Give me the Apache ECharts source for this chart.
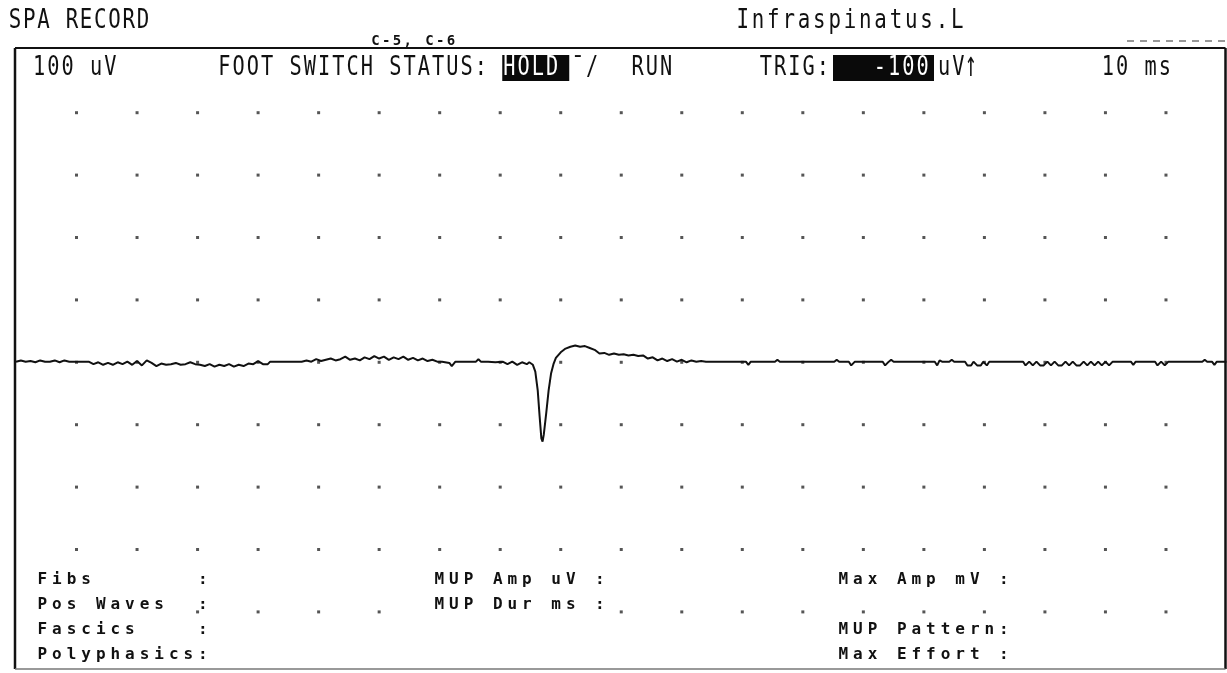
<!DOCTYPE html>
<html><head><meta charset="utf-8">
<script src="https://cdn.jsdelivr.net/npm/echarts@6/dist/echarts.min.js"></script>
<style>html,body{margin:0;padding:0;background:#fff}#c{width:1227px;height:673px}</style>
</head><body><div id="c"></div>
<script>
// ---------------- DATA ----------------
// EMG sweep: [time ms, amplitude uV]
const tracePoints = [
 [0,1],[0.4,3],[0.8,1],[1.2,2],[1.6,0],[2.0,3],[2.4,1],[2.8,1],[3.2,3],[3.6,0],[4.0,3],[4.4,1],[5.0,1],[6.0,1],
 [6.4,-3],[6.8,0],[7.2,-4],[7.6,-1],[8.0,-4],[8.4,0],[8.8,-3],[9.2,1],
 [9.6,-4],[10.0,2],[10.4,-5],[10.8,3],[11.2,-1],[11.6,-6],
 [12.0,-2],[12.4,-4],[12.8,-3],[13.2,-1],[13.6,-4],[14.0,-3],[14.4,0],[14.8,-3],[15.2,-4],
 [15.6,-6],[16.0,-3],[16.4,-7],[16.8,-4],[17.2,-6],[17.6,-3],[18.0,-7],[18.4,-4],[18.8,-6],[19.2,-2],
 [19.6,-3],[20.0,2],[20.4,-3],[20.8,-3],[21.0,1],[22.0,1],[23.0,1],[23.6,1],
 [24.0,3],[24.4,1],[24.8,5],[25.2,2],[25.6,4],[26.0,6],[26.4,3],
 [26.8,5],[27.2,9],[27.6,4],[28.0,6],[28.4,3],[28.8,8],[29.2,5],[29.6,10],[30.0,6],[30.4,9],[30.8,4],[31.2,8],[31.6,5],[32.0,9],[32.4,4],[32.8,7],
 [33.2,3],[33.6,6],[34.0,2],[34.4,4],[34.8,1],[35.2,1],[35.8,-1],[36.0,-6],[36.3,1],[37.0,1],[38.0,1],[38.2,5],[38.4,1],[39.0,1],[39.6,0],[40.2,1],
 [40.6,-3],[41.0,1],[41.4,-4],[41.8,0],[42.2,-3],[42.4,0],
 [42.7,-4],[42.9,-15],[43.1,-45],[43.25,-85],[43.4,-122],[43.5,-127],[43.6,-116],[43.8,-82],[44.0,-45],[44.2,-18],[44.4,-3],[44.6,7],
 [45.0,16],[45.4,22],[45.8,25],[46.2,27],[46.6,25],[47.0,26],[47.4,23],[47.8,20],[48.2,14],[48.6,15],[49.0,12],[49.4,14],[49.8,12],
 [50.2,13],[50.6,11],[51.0,12],[51.4,10],[51.8,11],[52.2,6],[52.6,8],[53.0,3],[53.4,6],[53.8,2],[54.2,5],[54.6,1],[55.0,4],[55.4,0],[55.8,3],[56.2,1],[56.6,2],[57.0,1],
 [58.0,1],[58.3,1],[58.4,4],[58.5,1],[60.3,1],[60.5,-4],[60.7,1],[62.7,1],[62.9,4],[63.1,1],[65.0,1],
 [67.6,1],[67.8,4],[68.0,1],[68.8,1],[69.0,-5],[69.3,1],[71.6,1],[71.8,-5],[72.1,1],[72.3,4],[72.5,1],
 [75.9,1],[76.1,-5],[76.3,3],[76.5,1],[77.1,1],[77.3,4],[77.5,1],
 [78.4,1],[78.6,-5],[78.9,-5],[79.1,1],[79.4,-5],[79.7,-5],[79.9,1],[80.2,-5],[80.4,1],
 [82.0,1],[83.2,1],[83.4,-5],[83.7,1],[84.0,-5],[84.3,1],[84.6,-5],[84.9,-5],[85.2,1],[85.5,-5],[85.8,1],[86.1,-5],[86.4,-5],[86.7,1],
 [87.0,-5],[87.3,1],[87.6,-5],[87.9,-5],[88.2,1],[88.5,-5],[88.8,1],[89.1,-5],[89.4,1],[89.7,-5],[90.0,1],[90.3,-5],[90.6,1],
 [92.1,1],[92.3,-4],[92.5,1],[94.1,1],[94.3,-5],[94.6,1],[94.9,-5],[95.2,1],[98.0,1],[98.2,4],[98.4,1],[98.8,1],[99.0,-4],[99.2,1],[100,1]
];
// dot-grid positions
const dotTimesMs = [5,10,15,20,25,30,35,40,45,50,55,60,65,70,75,80,85,90,95];
const dotLevelsUv = [400,300,200,100,0,-100,-200,-300,-400];
// texts
const titleText = 'SPA RECORD';
const electrodeText = 'C-5, C-6';
const muscleText = 'Infraspinatus.L';
const headerTexts = ['100 uV','FOOT SWITCH STATUS:','HOLD','\u00AF/','RUN','TRIG:','-100','uV','\u2191','10 ms'];
const footerLeft = ['Fibs','Pos Waves','Fascics','Polyphasics'];
const footerMid = ['MUP Amp uV','MUP Dur ms','',''];
const footerRight = ['Max Amp mV','','MUP Pattern','Max Effort'];

// ---------------- LAYOUT ----------------
const FRAME_TOP = 48, FRAME_BOTTOM = 669, FRAME_LEFT = 15, FRAME_RIGHT = 1225.5;
const HEAD_Y = 68;
const HEAD_X0 = 32, HEAD_ADV = 14.25;
const headerCols = [0,13,33,37.8,42,51,59,63.5,65.4,75];
const inverseIdx = [2,6];
const FOOT_ADV = 14.6;
const footY = [580, 605, 630, 655];
const footX = [35, 432, 836];

const bigFont = '26px "DejaVu Sans Mono", monospace';
const arrowFont = '36px "DejaVu Sans Mono", monospace';
const footFont = 'bold 16px "DejaVu Sans Mono", monospace';

function cellText(str, x0, y, adv, font, scaleX, fill, z) {
  const els = [];
  for (let i = 0; i < str.length; i++) {
    const ch = str[i];
    if (ch === ' ') continue;
    els.push({type:'text', x: x0 + i*adv + adv/2, y: y, scaleX: scaleX, z: z || 120, silent:true,
      style:{text: ch, font: font, fill: fill || '#111', align:'center', verticalAlign:'middle'}});
  }
  return els;
}

const graphics = [];
// frame
graphics.push({type:'line', z:110, shape:{x1:FRAME_LEFT,y1:FRAME_TOP,x2:FRAME_RIGHT,y2:FRAME_TOP}, style:{stroke:'#111',lineWidth:2}});
graphics.push({type:'line', z:110, shape:{x1:FRAME_LEFT,y1:FRAME_TOP,x2:FRAME_LEFT,y2:FRAME_BOTTOM}, style:{stroke:'#111',lineWidth:2.5}});
graphics.push({type:'line', z:110, shape:{x1:FRAME_RIGHT,y1:FRAME_TOP,x2:FRAME_RIGHT,y2:FRAME_BOTTOM}, style:{stroke:'#111',lineWidth:2.5}});
graphics.push({type:'line', z:110, shape:{x1:FRAME_LEFT,y1:FRAME_BOTTOM,x2:FRAME_RIGHT,y2:FRAME_BOTTOM}, style:{stroke:'#777',lineWidth:1.5}});
// dashes top right
graphics.push({type:'line', z:110, shape:{x1:1127,y1:41,x2:1227,y2:41}, style:{stroke:'#333',lineWidth:1.2,lineDash:[7,6]}});
// titles
graphics.push(...cellText(titleText, 8, 21, 14.2, bigFont, 0.8));
graphics.push(...cellText(muscleText, 735, 21, 15.33, bigFont, 0.8));
graphics.push(...cellText(electrodeText, 370, 41, 10.8, 'bold 14px "DejaVu Sans Mono", monospace', 1));
// header row
headerTexts.forEach((t, k) => {
  const x0 = HEAD_X0 + headerCols[k]*HEAD_ADV;
  const inv = inverseIdx.indexOf(k) >= 0;
  if (inv) {
    const bx = k === 2 ? x0 : 833;
    const bw = k === 2 ? 67 : 101;
    graphics.push({type:'rect', z:115, shape:{x:bx, y:HEAD_Y-13, width:bw, height:26}, style:{fill:'#0a0a0a'}});
  }
  const isArrow = t === '\u2191';
  graphics.push(...cellText(t, x0, isArrow ? HEAD_Y - 1 : HEAD_Y, HEAD_ADV, isArrow ? arrowFont : bigFont, isArrow ? 0.55 : 0.78, inv ? '#fff' : '#111'));
});
// footer
[footerLeft, footerMid, footerRight].forEach((col, c) => {
  col.forEach((label, r) => {
    if (!label) return;
    const x0 = footX[c];
    graphics.push({type:'rect', z:115, shape:{x:x0, y:footY[r]-9, width:label.length*FOOT_ADV, height:18}, style:{fill:'#fff'}});
    graphics.push(...cellText(label, x0, footY[r], FOOT_ADV, footFont, 1));
    graphics.push(...cellText(':', x0 + 11*FOOT_ADV, footY[r], FOOT_ADV, footFont, 1));
  });
});

const dotData = [];
dotLevelsUv.forEach(v => dotTimesMs.forEach(t => dotData.push([t, v])));

const chart = echarts.init(document.getElementById('c'), null, {renderer:'canvas'});
chart.setOption({
  backgroundColor:'#fff',
  animation:false,
  grid:{left:16, right:0.5, top:112.7, bottom:61.1},
  xAxis:{type:'value', min:0, max:100, show:false},
  yAxis:{type:'value', min:-400, max:400, show:false},
  series:[
    {type:'scatter', data:dotData, symbol:'rect', symbolSize:3, itemStyle:{color:'#2a2a2a'}, silent:true, z:1},
    {type:'line', data:tracePoints, showSymbol:false, symbol:'none', lineStyle:{color:'#111', width:2}, silent:true, z:3}
  ],
  graphic:{elements:graphics}
});
</script></body></html>
